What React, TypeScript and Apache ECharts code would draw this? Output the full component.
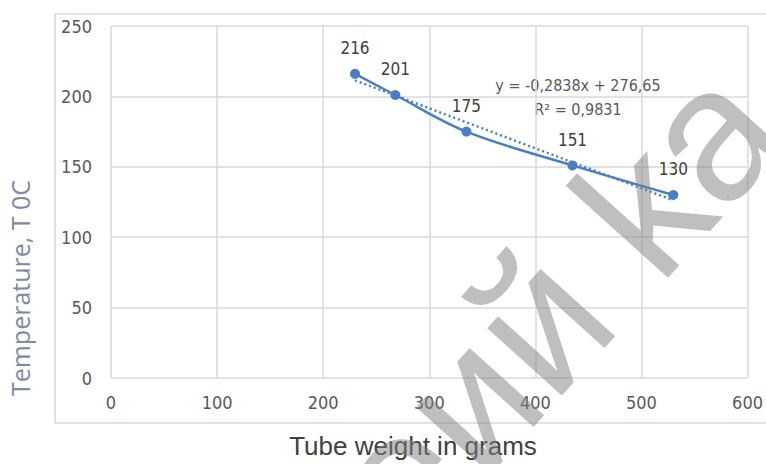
import React, { useEffect, useRef } from "react";
import * as echarts from "echarts";

// Data
const weights = [230, 268, 335, 435, 530];
const temps = [216, 201, 175, 151, 130];
const trendWeights = [230, 530];
const trendTemps = [211.4, 126.2];
const xMin = 0, xMax = 600, xStep = 100;
const yMin = 0, yMax = 250, yStep = 50;
const xTitle = "Tube weight in grams";
const yTitle = "Temperature, T 0C";
const equation = "y = -0,2838x + 276,65";
const rSquared = "R² = 0,9831";
const watermark = "еий ka";

const NARROW = "'Liberation Sans Narrow', 'DejaVu Sans Condensed', sans-serif";
const BLUE = "#4a7ec0";
const ANG = (48 * Math.PI) / 180;

export default function App() {
  const ref = useRef<HTMLDivElement>(null);
  useEffect(() => {
    if (!ref.current) return;
    const chart = echarts.init(ref.current, null, { renderer: "svg" });
    chart.setOption({
      animation: false,
      backgroundColor: "#ffffff",
      grid: { left: 111, right: 14, top: 26, bottom: 86 },
      xAxis: {
        type: "value",
        min: xMin,
        max: xMax,
        interval: xStep,
        axisLine: { show: false },
        axisTick: { show: false },
        splitLine: { show: true, lineStyle: { color: "#d9d9d9", width: 1.5 } },
        axisLabel: { color: "#595959", fontSize: 18, fontFamily: NARROW, margin: 15 },
      },
      yAxis: {
        type: "value",
        min: yMin,
        max: yMax,
        interval: yStep,
        axisLine: { show: false },
        axisTick: { show: false },
        splitLine: { show: true, lineStyle: { color: "#d9d9d9", width: 1.5 } },
        axisLabel: { color: "#595959", fontSize: 18, fontFamily: NARROW, margin: 19 },
      },
      series: [
        {
          type: "line",
          data: weights.map((w, i) => [w, temps[i]]),
          smooth: 0.35,
          symbol: "circle",
          symbolSize: 10,
          itemStyle: { color: BLUE },
          lineStyle: { color: BLUE, width: 2.5 },
          label: {
            show: true,
            position: "top",
            distance: 12,
            color: "#404040",
            fontSize: 17,
            fontFamily: NARROW,
          },
          z: 3,
        },
        {
          type: "line",
          data: trendWeights.map((w, i) => [w, trendTemps[i]]),
          symbol: "none",
          lineStyle: { color: BLUE, width: 2.5, type: [2, 3] },
          z: 2,
        },
      ],
      graphic: [
        {
          type: "rect",
          shape: { x: 55, y: 14, width: 760, height: 409 },
          style: { fill: "none", stroke: "#d9d9d9", lineWidth: 1.5 },
          z: -1,
        },
        {
          type: "text",
          x: 578,
          y: 85,
          style: { text: equation, font: `16px ${NARROW}`, fill: "#595959", align: "center", verticalAlign: "middle" },
        },
        {
          type: "text",
          x: 578,
          y: 109,
          style: { text: rSquared, font: `16px ${NARROW}`, fill: "#595959", align: "center", verticalAlign: "middle" },
        },
        {
          type: "text",
          x: 413,
          y: 446,
          style: { text: xTitle, font: "26px 'Liberation Sans', sans-serif", fill: "#404040", align: "center", verticalAlign: "middle" },
        },
        {
          type: "text",
          x: 20,
          y: 288,
          rotation: Math.PI / 2,
          style: { text: yTitle, font: "25px 'Open Sans', sans-serif", fill: "#7d8ca3", align: "center", verticalAlign: "middle" },
        },
        {
          type: "text",
          x: 433 - 105.6 * Math.cos(ANG),
          y: 440 + 105.6 * Math.sin(ANG),
          rotation: ANG,
          style: { text: watermark, font: "190px 'Liberation Sans', sans-serif", fill: "rgba(128,128,128,0.5)", align: "left", verticalAlign: "middle" },
          z: 100,
        },
      ],
    });
    return () => chart.dispose();
  }, []);
  return <div ref={ref} style={{ width: 766, height: 464, position: "absolute", left: 0, top: 0 }} />;
}
